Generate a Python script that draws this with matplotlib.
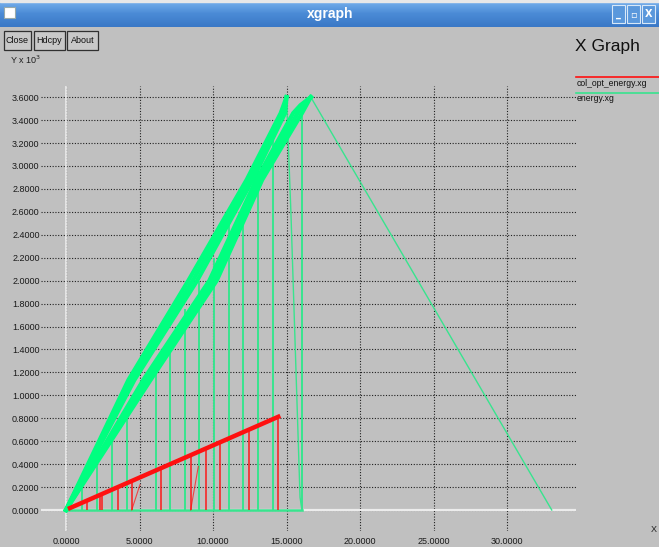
import numpy as np
import matplotlib.pyplot as plt
from matplotlib.patches import Rectangle

plt.rcParams['font.family'] = ['Liberation Sans', 'DejaVu Sans']

# values (y axis is in units of 10^3)
x_ticks = [0, 5, 10, 15, 20, 25, 30]
y_ticks = [0.0, 0.2, 0.4, 0.6, 0.8, 1.0, 1.2, 1.4, 1.6, 1.8,
           2.0, 2.2, 2.4, 2.6, 2.8, 3.0, 3.2, 3.4, 3.6]

# energy.xg - upper band (several nearly parallel traces)
upper_y = [0.0, 1.133, 2.0, 2.88, 3.46, 3.6]
upper_x = [[0.0, 4.24, 8.32, 12.29, 14.60, 15.0],
           [0.0, 4.45, 8.62, 12.50, 14.75, 15.0],
           [0.0, 4.65, 8.92, 12.70, 14.90, 15.0]]
# energy.xg - lower band
lower_y = [0.0, 1.133, 2.0, 2.88, 3.46, 3.53, 3.6]
lower_x = [[0.0, 5.25, 9.75, 12.95, 15.45, 15.95, 16.65],
           [0.0, 5.50, 10.00, 13.15, 15.75, 16.15, 16.65],
           [0.0, 5.75, 10.25, 13.35, 16.05, 16.35, 16.65]]
# energy.xg - drops to zero
green_drop_x = [1.09, 2.1, 3.13, 4.15, 6.1, 7.07, 8.1, 9.05, 10.07, 11.1, 12.04, 13.06, 14.08, 16.05]
green_drop_top = [0.19, 0.39, 0.63, 0.82, 1.30, 1.50, 1.75, 2.0, 2.2, 2.5, 2.62, 3.02, 3.34, 3.54]
peak_drop_x = [15.0, 15.3, 15.92, 16.05]
peak_drop_y = [3.6, 2.59, 0.11, 0.0]
base_x = [0.0, 16.05]
base_y = [0.0, 0.0]
tail_x = [16.65, 33.04]
tail_y = [3.6, 0.0]

# col_opt_energy.xg
red_x = [0.27, 14.44]
red_y = [0.017, 0.813]
red_drop_x = [1.45, 2.31, 2.43, 3.52, 4.47, 6.46, 8.48, 9.50, 10.48, 12.45, 14.44]
red_drop_top = [0.083, 0.132, 0.138, 0.20, 0.253, 0.365, 0.465, 0.536, 0.59, 0.70, 0.813]
red_slant_x = [[4.47, 5.03], [8.48, 9.0]]
red_slant_y = [[0.0, 0.22], [0.0, 0.38]]

W, H = 659, 547
bg = '#c0c0c0'
band_c = '#00ff80'
thin_c = '#38e48e'
red_c = '#ff1010'

fig = plt.figure(figsize=(W / 100, H / 100), dpi=100)
fig.patch.set_facecolor(bg)

ax = fig.add_axes([41 / W, 1 - 531 / H, (576 - 41) / W, (531 - 86) / H])
ax.set_facecolor(bg)
for s in ax.spines.values():
    s.set_visible(False)
ax.set_xlim(-1.70, 34.69)
ax.set_ylim(-0.183, 3.697)
ax.set_xticks(x_ticks)
ax.set_xticklabels(['%.4f' % v for v in x_ticks])
ax.set_yticks(y_ticks)
ax.set_yticklabels(['%.4f' % v for v in y_ticks])
ax.tick_params(axis='both', length=0, labelsize=6.5, colors='#1a1a1a')
ax.tick_params(axis='y', pad=1)
ax.tick_params(axis='x', pad=4)
ax.grid(True, color='#202020', linestyle=(0, (1, 1.5)), lw=0.8, zorder=0)
ax.set_axisbelow(True)
ax.axhline(0, color='#ececec', lw=1.6, zorder=1)
ax.axvline(0, color='#ececec', lw=1.2, zorder=1)

# green set
ax.vlines(green_drop_x, 0, green_drop_top, colors=thin_c, lw=1.4, zorder=2)
ax.plot(base_x, base_y, color=thin_c, lw=1.8, zorder=2)
ax.plot(tail_x, tail_y, color=thin_c, lw=1.0, zorder=2)
ax.plot(peak_drop_x, peak_drop_y, color=thin_c, lw=1.0, zorder=2)
for xs in upper_x:
    ax.plot(xs, upper_y, color=band_c, lw=3.0, zorder=3)
for xs in lower_x:
    ax.plot(xs, lower_y, color=band_c, lw=3.0, zorder=3)

# red set
ax.vlines(red_drop_x, 0, red_drop_top, colors=red_c, lw=1.3, alpha=0.8, zorder=4)
for xs, ys in zip(red_slant_x, red_slant_y):
    ax.plot(xs, ys, color=red_c, lw=0.8, alpha=0.7, zorder=4)
ax.plot(red_x, red_y, color=red_c, lw=3.2, zorder=5)

# window chrome, drawn in pixel coordinates
ov = fig.add_axes([0, 0, 1, 1])
ov.axis('off')
grad = np.linspace(0, 1, 27).reshape(-1, 1)
ov.imshow(grad, cmap=plt.matplotlib.colors.LinearSegmentedColormap.from_list(
    'tb', ['#7ab3ee', '#4b8bd6', '#3a78c6']), aspect='auto', extent=[0, W, 27, 0])
ov.set_xlim(0, W)
ov.set_ylim(H, 0)
ov.add_patch(Rectangle((0, 0), W, 1.5, color='#e8e8e8'))
ov.add_patch(Rectangle((4, 7), 11, 11, facecolor='white', edgecolor='#9aa', lw=0.8))
ov.text(330, 14, 'xgraph', color='white', fontsize=10, fontweight='bold', ha='center', va='center')
for x0, sym in [(612, '_'), (627, '\u25ab'), (642, 'X')]:
    ov.add_patch(Rectangle((x0, 5), 13, 18, facecolor='#5a98dc', edgecolor='#d8e8f8', lw=0.8))
    ov.text(x0 + 6.5, 14, sym, color='white', fontsize=7, fontweight='bold', ha='center', va='center',
            family=['DejaVu Sans'])

for x0, x1, lab in [(4, 31, 'Close'), (34, 65, 'Hdcpy'), (67, 98, 'About')]:
    ov.add_patch(Rectangle((x0, 31), x1 - x0, 19, facecolor='#c8c8c8', edgecolor='#303030', lw=0.9))
    ov.text((x0 + x1) / 2, 40.5, lab, fontsize=6.5, ha='center', va='center', color='#101010')

ov.text(10, 60, 'Y x 10$^3$', fontsize=6.5, ha='left', va='center', color='#202020')
ov.text(575, 47, 'X Graph', fontsize=12.5, ha='left', va='center', color='#101010')
ov.plot([576, W], [76.5, 76.5], color=red_c, lw=1.2)
ov.text(577, 83.5, 'col_opt_energy.xg', fontsize=6.2, ha='left', va='center', color='#101010')
ov.plot([576, W], [93, 93], color=thin_c, lw=1.2)
ov.text(577, 98.5, 'energy.xg', fontsize=6.2, ha='left', va='center', color='#101010')
ov.text(651, 530, 'X', fontsize=6.5, ha='left', va='center', color='#202020')

fig.savefig('out.png', dpi=100, facecolor=bg)
